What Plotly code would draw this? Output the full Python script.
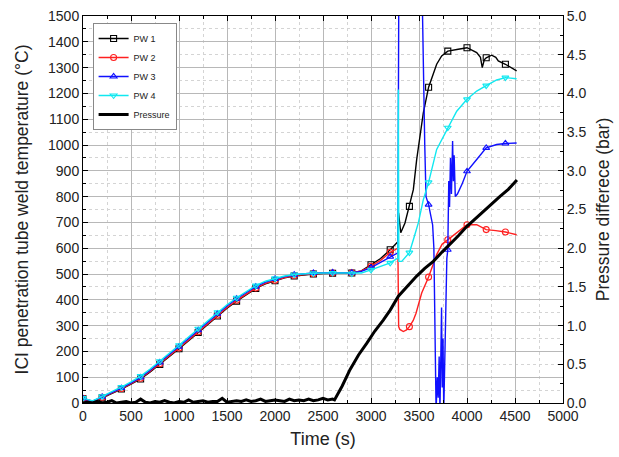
import plotly.graph_objects as go

# ---------------- data ----------------
early_t = [0, 100, 200, 300, 400, 500, 600, 700, 800, 900, 1000, 1100, 1200, 1300, 1400, 1500,
           1600, 1700, 1800, 1900, 2000, 2100, 2200, 2300, 2400, 2500, 2600, 2700, 2800, 2900,
           3000, 3100, 3200]

pw1_t = early_t + [3250, 3280, 3287, 3300, 3310, 3354, 3400, 3441, 3476, 3545, 3600, 3684, 3736,
                   3800, 3909, 4000, 4101, 4140, 4159, 4180, 4200, 4257, 4300, 4326, 4400, 4465, 4517]
pw1_T = [16, 5, 20, 36, 54, 73, 93, 120, 149, 179, 210, 241, 273, 305, 337, 367, 395, 421, 444, 462,
         474, 485, 492, 497, 500, 502, 503, 503, 504, 512, 536, 560, 594,
         613, 625, 737, 680, 660, 698, 762, 827, 944, 1125, 1224, 1313, 1345,
         1364, 1371, 1377, 1358, 1340, 1300, 1330, 1338, 1348, 1340, 1326, 1313, 1300, 1287]

pw2_t = early_t + [3250, 3280, 3288, 3300, 3337, 3370, 3400, 3440, 3469, 3528, 3600, 3684, 3740,
                   3800, 3893, 4000, 4101, 4200, 4300, 4400, 4517]
pw2_T = [17, 6, 22, 38, 56, 75, 96, 123, 152, 182, 213, 244, 276, 308, 340, 370, 398, 423, 446, 464,
         476, 486, 494, 498, 501, 503, 504, 504, 505, 512, 530, 553, 584,
         594, 600, 296, 285, 277, 283, 296, 320, 348, 426, 488, 575, 615,
         633, 659, 691, 691, 672, 668, 663, 652]

pw3_t = early_t + [3250, 3280, 3290, 3400, 3530, 3560, 3573, 3600, 3642, 3655, 3668, 3678, 3690,
                   3700, 3710, 3718, 3726, 3735, 3742, 3750, 3758, 3768, 3780, 3790, 3800, 3810,
                   3818, 3828, 3838, 3850, 3858, 3866, 3878, 3900, 3950, 4000, 4101, 4200, 4309,
                   4400, 4517]
pw3_T = [18, 7, 24, 40, 58, 78, 99, 127, 157, 187, 218, 250, 282, 314, 346, 376, 404, 429, 451, 469,
         481, 490, 497, 501, 504, 505, 506, 505, 505, 510, 525, 545, 567,
         575, 582, 1650, 1650, 1650, 1000, 800, 769, 690, 600, 330, -30, 100,
         20, 180, -30, 150, 370, 60, 250, -30, 200, 480, 560, 594, 860,
         760, 950, 810, 1015, 860, 960, 800, 810, 850, 898, 944, 989, 1002,
         1006, 1008]

pw4_t = early_t + [3250, 3280, 3285, 3290, 3320, 3400, 3441, 3493, 3545, 3600, 3684, 3800, 3893,
                   4000, 4101, 4200, 4309, 4400, 4517]
pw4_T = [19, 8, 26, 43, 62, 82, 104, 132, 162, 193, 224, 256, 288, 320, 352, 381, 408, 433, 455, 472,
         483, 492, 498, 501, 503, 504, 504, 503, 502, 504, 516, 530, 543,
         555, 562, 1215, 549, 549, 583, 633, 698, 788, 855, 983, 1067, 1131,
         1177, 1209, 1230, 1252, 1261, 1257]

marker_times = [0, 200, 400, 600, 800, 1000, 1200, 1400, 1600, 1800, 2000, 2200, 2400, 2600,
                2800, 3000, 3200, 3400, 3600, 3800, 4000, 4200, 4400]

p_t = list(range(0, 2650, 50)) + [2620, 2700, 2781, 2870, 2955, 3040, 3128, 3200, 3285, 3380,
                                   3476, 3560, 3649, 3740, 3823, 3910, 3997, 4085, 4170, 4260,
                                   4344, 4430, 4520]
p_v = [0.00, 0.01, 0.00, 0.02, 0.00, 0.01, 0.03, 0.00, 0.01, 0.02, 0.00, 0.01, 0.05, 0.01, 0.00,
       0.02, 0.01, 0.03, 0.01, 0.00, 0.02, 0.01, 0.04, 0.01, 0.02, 0.03, 0.01, 0.02, 0.02, 0.06,
       0.01, 0.02, 0.03, 0.02, 0.04, 0.02, 0.03, 0.05, 0.02, 0.03, 0.04, 0.03, 0.02, 0.05, 0.03,
       0.04, 0.03, 0.05, 0.03, 0.04, 0.06, 0.04, 0.05,
       0.04, 0.22, 0.43, 0.62, 0.77, 0.93, 1.07, 1.20, 1.38, 1.51,
       1.64, 1.74, 1.83, 1.95, 2.05, 2.16, 2.28, 2.38, 2.48, 2.57,
       2.67, 2.76, 2.88]

series = [
    ("PW 1", pw1_t, pw1_T, "#000000", "square-open"),
    ("PW 2", pw2_t, pw2_T, "#ff2020", "circle-open"),
    ("PW 3", pw3_t, pw3_T, "#1010ff", "triangle-up-open"),
    ("PW 4", pw4_t, pw4_T, "#10e8f0", "triangle-down-open"),
]

fig = go.Figure()
for name, tt, vv, col, sym in series:
    fig.add_trace(go.Scatter(x=tt, y=vv, mode="lines", line=dict(color=col, width=1.4),
                             showlegend=False, hoverinfo="skip"))
    mx = [t for t in tt if t in marker_times]
    my = [v for t, v in zip(tt, vv) if t in marker_times]
    fig.add_trace(go.Scatter(x=mx, y=my, mode="markers",
                             marker=dict(symbol=sym, size=6, color=col, line=dict(width=1.1, color=col)),
                             showlegend=False))
    fig.add_trace(go.Scatter(x=[None], y=[None], mode="lines+markers", name=name,
                             line=dict(color=col, width=1.4),
                             marker=dict(symbol=sym, size=6, color=col, line=dict(width=1.1, color=col))))

fig.add_trace(go.Scatter(x=p_t, y=p_v, mode="lines", name="Pressure", yaxis="y2",
                         line=dict(color="#000000", width=3)))

font_family = "Liberation Sans, Arial, sans-serif"
axis_common = dict(showline=True, linecolor="#000000", linewidth=1, ticks="inside",
                   tickcolor="#000000", ticklen=5, zeroline=False,
                   tickfont=dict(size=14, color="#222222", family=font_family))

fig.update_layout(
    width=619, height=457,
    margin=dict(l=83, r=56, t=16, b=54, autoexpand=False),
    paper_bgcolor="white", plot_bgcolor="white",
    font=dict(family=font_family, color="#222222"),
    xaxis=dict(range=[0, 5000], dtick=500, mirror="ticks", showgrid=True, gridcolor="#b8b8b8",
               minor=dict(dtick=250, ticks="inside", ticklen=3, tickcolor="#000000",
                          showgrid=True, gridcolor="#d4d4d4", griddash="dot"),
               title=dict(text="Time (s)", font=dict(size=18, family=font_family), standoff=9),
               automargin=True, **axis_common),
    yaxis=dict(range=[0, 1500], dtick=100, mirror=True, showgrid=True, gridcolor="#b8b8b8",
               minor=dict(dtick=50, ticks="inside", ticklen=3, tickcolor="#000000",
                          showgrid=True, gridcolor="#d4d4d4", griddash="dot"),
               title=dict(text="ICI penetration tube weld temperature (°C)",
                          font=dict(size=17.5, family=font_family), standoff=14),
               automargin=True, **axis_common),
    yaxis2=dict(range=[0, 5], dtick=0.5, tickformat=".1f", overlaying="y", side="right",
                showgrid=False,
                minor=dict(dtick=0.25, ticks="inside", ticklen=3, tickcolor="#000000"),
                title=dict(text="Pressure differece (bar)", font=dict(size=17.5, family=font_family),
                           standoff=11),
                automargin=True, **axis_common),
    legend=dict(x=0.02, y=0.982, xanchor="left", yanchor="top", bgcolor="white",
                bordercolor="#888888", borderwidth=1, font=dict(size=9, family=font_family),
                itemwidth=30, tracegroupgap=0),
)

fig.write_html("out.html", post_script="document.body.style.margin='0';",
               config={"displayModeBar": False})
